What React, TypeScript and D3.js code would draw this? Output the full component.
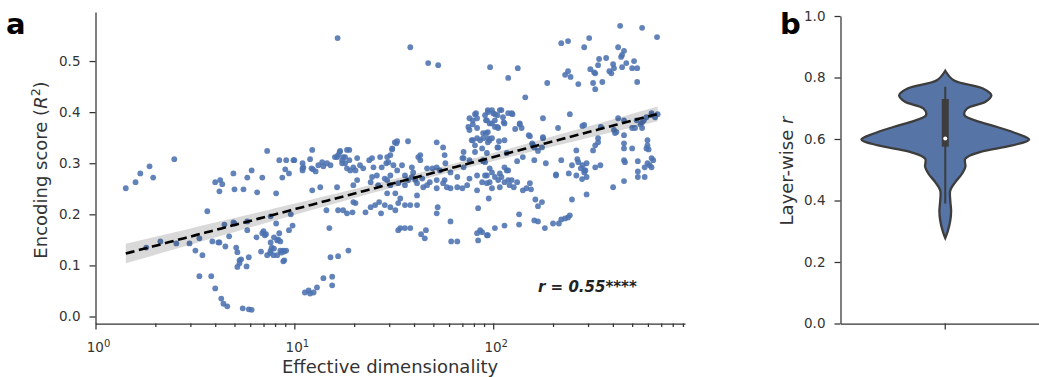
import * as d3 from "d3";
import { useEffect, useRef } from "react";

// Panel a: effective dimensionality (x) vs encoding score R^2 (y), one dot per layer
// split in three blocks by dimensionality so the pairs stay easy to check
const dimsLow = [
  1.42, 1.59, 1.68, 1.87, 1.95, 2.49, 1.8, 2.12, 2.55, 2.97,
  3.18, 3.33, 3.45, 3.33, 3.65, 3.82, 3.87, 4.0, 4.0, 4.2,
  4.24, 4.34, 4.29, 4.4, 4.6, 4.2, 4.5, 4.45, 4.7, 4.94,
  5.0, 4.94, 5.1, 5.17, 5.17, 5.3, 5.4, 5.3, 5.5, 5.75,
  5.9, 5.8, 5.9, 6.1, 5.55, 5.8, 6.1, 6.5, 6.45, 6.8,
  6.9, 7.0, 7.2, 7.3, 7.3, 7.55, 7.6, 7.7, 7.9, 7.85,
  8.1, 8.2, 8.1, 8.4, 8.5, 8.6, 8.7, 8.8, 9.0, 8.9,
  9.1, 9.1, 9.4, 9.4, 9.6, 9.8, 9.9, 8.4, 7.9, 7.6,
  4.15, 5.0, 5.8, 6.9, 7.1, 8.3, 7.6, 8.2, 8.5, 8.9,
  8.8,
];
const scoresLow = [
  0.251, 0.263, 0.28, 0.294, 0.272, 0.308, 0.135, 0.147, 0.143, 0.143,
  0.129, 0.153, 0.12, 0.079, 0.206, 0.079, 0.147, 0.055, 0.263, 0.245,
  0.267, 0.259, 0.035, 0.025, 0.02, 0.145, 0.137, 0.18, 0.157, 0.28,
  0.249, 0.184, 0.135, 0.126, 0.097, 0.11, 0.112, 0.104, 0.016, 0.098,
  0.116, 0.169, 0.014, 0.013, 0.249, 0.272, 0.286, 0.243, 0.155, 0.127,
  0.272, 0.167, 0.161, 0.324, 0.12, 0.124, 0.196, 0.135, 0.133, 0.12,
  0.241, 0.149, 0.182, 0.306, 0.147, 0.125, 0.272, 0.129, 0.288, 0.11,
  0.306, 0.129, 0.28, 0.169, 0.2, 0.178, 0.306, 0.163, 0.155, 0.145,
  0.145, 0.182, 0.186, 0.163, 0.159, 0.151, 0.129, 0.12, 0.129, 0.127,
  0.108,
];

const dimsMid = [
  11.0, 11.0, 12.3, 12.2, 12.3, 13.2, 13.5, 13.8, 14.5, 15.0,
  14.0, 13.0, 12.0, 11.3, 11.8, 12.5, 15.2, 15.5, 15.5, 16.6,
  16.4, 16.4, 16.9, 17.4, 18.0, 18.4, 18.4, 17.6, 18.4, 18.7,
  16.5, 10.0, 11.1, 12.0, 12.4, 14.0, 14.6, 15.2, 16.0, 16.6,
  17.0, 17.4, 17.6, 18.0, 18.9, 18.9, 19.8, 20.7, 21.4, 22.2,
  23.8, 24.6, 25.0, 27.0, 27.5, 29.0, 29.7, 30.4, 31.1, 32.6,
  32.9, 31.5, 34.8, 37.3, 39.0, 39.6, 42, 43, 46.5, 52,
  56, 57, 57.5, 52, 71, 75, 76, 79, 81, 83,
  78, 81, 83, 89, 91, 93, 94, 94, 81, 89,
  38.3, 47.1, 52.9, 96.5, 11, 12.8, 19.1, 20.3, 24.6, 26,
  28.5, 30.4, 32.9, 36, 39, 40.6, 44, 48, 52, 57,
  20.7, 19.8, 24.2, 26.4, 29.3, 30.4, 33.3, 36, 37.3, 41.4,
  44.5, 46.5, 52, 56, 58.5, 61, 66, 70, 74, 83,
  88, 93, 19.8, 20.3, 16.6, 19.6, 22.8, 24.2, 25.5, 26.7,
  27.3, 28.5, 30.4, 32.2, 33.3, 34.1, 36, 38.3, 41.4, 41.4,
  32.2, 29.3, 52, 52.6, 61, 84, 83, 86, 88, 93,
  33.3, 34.1, 36, 38.3, 43.4, 45.3, 45.9, 61.5, 66, 84,
  82, 100, 105, 110, 125, 76, 79, 83, 92, 96,
  102, 106, 113, 92, 79, 86, 89, 96, 107, 70,
  88, 105, 136, 157, 178, 151, 32, 31, 29.3, 43,
  49.5, 54, 61, 66, 71, 76, 83, 91, 96, 108,
  117, 89, 71, 76,
];
const scoresMid = [
  0.3, 0.29, 0.326, 0.29, 0.247, 0.296, 0.253, 0.302, 0.208, 0.173,
  0.075, 0.057, 0.045, 0.047, 0.051, 0.047, 0.116, 0.078, 0.061, 0.118,
  0.253, 0.312, 0.322, 0.3, 0.312, 0.326, 0.29, 0.208, 0.202, 0.129,
  0.545, 0.306, 0.292, 0.308, 0.288, 0.294, 0.3, 0.296, 0.312, 0.316,
  0.324, 0.306, 0.312, 0.3, 0.326, 0.306, 0.292, 0.31, 0.296, 0.29,
  0.306, 0.31, 0.292, 0.312, 0.292, 0.3, 0.302, 0.316, 0.329, 0.339,
  0.343, 0.296, 0.296, 0.343, 0.292, 0.282, 0.312, 0.316, 0.29, 0.341,
  0.331, 0.316, 0.3, 0.292, 0.31, 0.371, 0.365, 0.384, 0.396, 0.388,
  0.345, 0.335, 0.349, 0.359, 0.394, 0.384, 0.404, 0.349, 0.322, 0.304,
  0.527, 0.496, 0.492, 0.488, 0.286, 0.284, 0.286, 0.286, 0.273, 0.276,
  0.27, 0.276, 0.286, 0.276, 0.273, 0.267, 0.27, 0.263, 0.267, 0.267,
  0.267, 0.257, 0.263, 0.257, 0.267, 0.257, 0.261, 0.257, 0.267, 0.261,
  0.253, 0.257, 0.251, 0.261, 0.253, 0.251, 0.253, 0.251, 0.257, 0.247,
  0.263, 0.261, 0.224, 0.222, 0.208, 0.204, 0.204, 0.214, 0.218, 0.224,
  0.202, 0.218, 0.214, 0.208, 0.222, 0.231, 0.218, 0.218, 0.218, 0.237,
  0.241, 0.241, 0.202, 0.214, 0.186, 0.212, 0.163, 0.169, 0.165, 0.159,
  0.169, 0.173, 0.173, 0.173, 0.161, 0.153, 0.169, 0.147, 0.147, 0.149,
  0.398, 0.398, 0.394, 0.404, 0.396, 0.388, 0.376, 0.369, 0.384, 0.378,
  0.371, 0.369, 0.38, 0.359, 0.345, 0.345, 0.349, 0.345, 0.343, 0.31,
  0.329, 0.331, 0.378, 0.339, 0.351, 0.355, 0.341, 0.327, 0.312, 0.306,
  0.29, 0.286, 0.282, 0.273, 0.292, 0.27, 0.276, 0.276, 0.29, 0.28,
  0.286, 0.306, 0.322, 0.306,
];

const dimsHigh = [
  435, 561, 667, 220, 238, 304, 287, 425, 445, 455,
  440, 341, 370, 401, 445, 467, 511, 500, 530, 337,
  308, 326, 322, 384, 393, 405, 230, 238, 245, 268,
  318, 354, 326, 530, 133, 119, 187, 145, 243, 178,
  212, 153, 178, 158, 161, 136, 129, 287, 348, 425,
  410, 405, 455, 455, 500, 517, 551, 561, 573, 626,
  652, 672, 597, 597, 590, 605, 455, 455, 337, 326,
  262, 168, 141, 161, 184, 220, 249, 268, 276, 288,
  346, 455, 534, 613, 638, 626, 94, 98.6, 102, 108,
  112, 119, 124, 102, 114, 98.6, 105, 94, 98.6, 106,
  94, 114, 139, 93, 117, 132, 114, 119, 98.6, 91,
  93, 96, 102, 106, 108, 110, 114, 119, 124, 132,
  121, 127, 98.6, 141, 147, 153, 155, 95, 163, 168,
  176, 135, 135, 114, 102, 94, 161, 168, 182, 200,
  214, 220, 230, 238, 243, 207, 240, 262, 280, 295,
  287, 249, 295, 401, 455, 534, 578, 337, 176, 265,
  282, 326, 534, 578, 597, 626, 500, 460, 318, 417,
  527, 561, 590, 626, 281, 295, 291, 207,
];
const scoresHigh = [
  0.569, 0.565, 0.547, 0.535, 0.539, 0.545, 0.527, 0.527, 0.512, 0.52,
  0.508, 0.504, 0.506, 0.494, 0.488, 0.496, 0.5, 0.486, 0.486, 0.492,
  0.484, 0.476, 0.478, 0.48, 0.476, 0.486, 0.473, 0.48, 0.469, 0.455,
  0.457, 0.459, 0.445, 0.459, 0.486, 0.467, 0.457, 0.429, 0.396, 0.388,
  0.369, 0.353, 0.349, 0.337, 0.331, 0.376, 0.367, 0.375, 0.371, 0.388,
  0.359, 0.365, 0.355, 0.384, 0.369, 0.369, 0.376, 0.369, 0.384, 0.398,
  0.39, 0.396, 0.345, 0.335, 0.329, 0.327, 0.339, 0.329, 0.341, 0.335,
  0.325, 0.324, 0.312, 0.306, 0.3, 0.306, 0.296, 0.302, 0.29, 0.286,
  0.296, 0.306, 0.284, 0.296, 0.306, 0.292, 0.4, 0.404, 0.396, 0.404,
  0.39, 0.398, 0.398, 0.384, 0.378, 0.378, 0.371, 0.361, 0.349, 0.331,
  0.341, 0.345, 0.369, 0.32, 0.32, 0.304, 0.292, 0.286, 0.282, 0.302,
  0.276, 0.263, 0.273, 0.267, 0.253, 0.273, 0.263, 0.267, 0.267, 0.263,
  0.257, 0.253, 0.251, 0.247, 0.251, 0.261, 0.249, 0.231, 0.229, 0.216,
  0.224, 0.2, 0.18, 0.178, 0.173, 0.159, 0.188, 0.186, 0.173, 0.182,
  0.182, 0.19, 0.192, 0.194, 0.198, 0.278, 0.28, 0.276, 0.269, 0.273,
  0.282, 0.229, 0.239, 0.253, 0.265, 0.273, 0.273, 0.349, 0.331, 0.308,
  0.296, 0.292, 0.304, 0.292, 0.3, 0.31, 0.329, 0.302, 0.325, 0.361,
  0.384, 0.38, 0.39, 0.394, 0.373, 0.3, 0.286, 0.276,
];

const yTicksA = [0, 0.1, 0.2, 0.3, 0.4, 0.5];
const xMajorTicks = [1, 10, 100];
const corrLabel = "r = 0.55****";

// Panel b: violin of layer-wise r (density profile, max = 1)
const violinR = [
  0.278, 0.3, 0.335, 0.367, 0.4, 0.433, 0.46, 0.487, 0.509, 0.536, 0.558, 0.579,
  0.598, 0.617, 0.639, 0.655, 0.677, 0.699, 0.721, 0.742, 0.764, 0.791, 0.822,
];
const violinDensity = [
  0, 0.03, 0.06, 0.07, 0.06, 0.06, 0.12, 0.2, 0.24, 0.24, 0.42, 0.8,
  1.0, 0.86, 0.62, 0.42, 0.23, 0.26, 0.48, 0.55, 0.45, 0.1, 0,
];
// whisker low, q1, median, q3, whisker high
const layerBoxStats = [0.39, 0.575, 0.602, 0.73, 0.77];
const yTicksB = [0, 0.2, 0.4, 0.6, 0.8, 1.0];

const FONT = "DejaVu Sans, sans-serif";
const INK = "#333";

export default function App() {
  const ref = useRef<SVGSVGElement>(null);

  useEffect(() => {
    const svg = d3.select(ref.current);
    svg.selectAll("*").remove();

    const effDim = [...dimsLow, ...dimsMid, ...dimsHigh];
    const encScore = [...scoresLow, ...scoresMid, ...scoresHigh];

    // ---------- panel a ----------
    const x = d3.scaleLog().domain([1, 922]).range([95.5, 685]);
    const y = d3.scaleLinear().domain([-0.0137, 0.596]).range([323.5, 12]);

    svg
      .append("g")
      .selectAll("circle")
      .data(effDim)
      .enter()
      .append("circle")
      .attr("cx", (d) => x(d))
      .attr("cy", (d, i) => y(encScore[i]))
      .attr("r", 2.9)
      .attr("fill", "#4c72b0")
      .attr("fill-opacity", 0.88);

    // least-squares fit on log10(dim) with a 95% band
    const lx = effDim.map(Math.log10);
    const n = lx.length;
    const mx = d3.mean(lx)!;
    const my = d3.mean(encScore)!;
    const sxx = d3.sum(lx, (v) => (v - mx) ** 2);
    const sxy = d3.sum(lx, (v, i) => (v - mx) * (encScore[i] - my));
    const slope = sxy / sxx;
    const icpt = my - slope * mx;
    const sse = d3.sum(lx, (v, i) => (encScore[i] - (icpt + slope * v)) ** 2);
    const s = Math.sqrt(sse / (n - 2));
    const [lo, hi] = d3.extent(lx) as [number, number];
    const grid = d3.range(0, 101).map((k) => lo + ((hi - lo) * k) / 100);
    const half = (g: number) => 1.96 * s * Math.sqrt(1 / n + (g - mx) ** 2 / sxx);

    svg
      .append("path")
      .datum(grid)
      .attr("fill", "#000")
      .attr("fill-opacity", 0.15)
      .attr(
        "d",
        d3
          .area<number>()
          .x((g) => x(10 ** g))
          .y0((g) => y(icpt + slope * g - half(g)))
          .y1((g) => y(icpt + slope * g + half(g)))
      );

    svg
      .append("path")
      .datum(grid)
      .attr("fill", "none")
      .attr("stroke", "#000")
      .attr("stroke-width", 2.6)
      .attr("stroke-dasharray", "9,4.5")
      .attr(
        "d",
        d3
          .line<number>()
          .x((g) => x(10 ** g))
          .y((g) => y(icpt + slope * g))
      );

    svg
      .append("text")
      .attr("x", 538)
      .attr("y", 292)
      .attr("font-family", FONT)
      .attr("font-size", 15)
      .attr("font-weight", "bold")
      .attr("font-style", "italic")
      .attr("fill", "#222")
      .text(corrLabel);

    // axes a
    const yAxisA = svg
      .append("g")
      .attr("transform", "translate(95.5,0)")
      .call(
        d3
          .axisLeft(y)
          .tickValues(yTicksA)
          .tickFormat(d3.format(".1f"))
          .tickSize(6)
          .tickPadding(9)
          .tickSizeOuter(0)
      );

    const minorTicks: number[] = [];
    for (const dec of xMajorTicks)
      for (let k = 2; k <= 9; k++) if (k * dec <= 922) minorTicks.push(k * dec);

    const xAxisA = svg
      .append("g")
      .attr("transform", "translate(0,323.5)")
      .call(
        d3
          .axisBottom(x)
          .tickValues(xMajorTicks)
          .tickFormat(() => "")
          .tickSize(6)
          .tickSizeOuter(0)
      );
    const xMinorA = svg
      .append("g")
      .attr("transform", "translate(0,323.5)")
      .call(
        d3
          .axisBottom(x)
          .tickValues(minorTicks)
          .tickFormat(() => "")
          .tickSize(3.5)
          .tickSizeOuter(0)
      );
    xMinorA.select(".domain").remove();

    xMajorTicks.forEach((t) => {
      const lbl = svg
        .append("text")
        .attr("x", x(t) + 3)
        .attr("y", 352)
        .attr("text-anchor", "middle")
        .attr("font-family", FONT)
        .attr("font-size", 13.5)
        .attr("fill", INK);
      lbl.append("tspan").text("10");
      lbl
        .append("tspan")
        .attr("dy", -5.5)
        .attr("font-size", 10)
        .text(String(Math.round(Math.log10(t))));
    });

    svg
      .append("text")
      .attr("x", 390)
      .attr("y", 373)
      .attr("text-anchor", "middle")
      .attr("font-family", FONT)
      .attr("font-size", 18)
      .attr("fill", INK)
      .text("Effective dimensionality");

    const ylab = svg
      .append("text")
      .attr("transform", "translate(47,170) rotate(-90)")
      .attr("text-anchor", "middle")
      .attr("font-family", FONT)
      .attr("font-size", 18)
      .attr("fill", INK);
    ylab.append("tspan").text("Encoding score (");
    ylab.append("tspan").attr("font-style", "italic").text("R");
    ylab.append("tspan").attr("dy", -7).attr("font-size", 12.5).text("2");
    ylab.append("tspan").attr("dy", 7).text(")");

    svg
      .append("text")
      .attr("x", 6)
      .attr("y", 34)
      .attr("font-family", FONT)
      .attr("font-size", 29)
      .attr("font-weight", "bold")
      .attr("fill", "#000")
      .text("a");

    // ---------- panel b ----------
    const yb = d3.scaleLinear().domain([0, 1]).range([323.5, 16]);
    const xb = d3.scaleBand().domain(["layers"]).range([840.5, 1050]);
    const cx = xb("layers")! + xb.bandwidth() / 2;
    const wb = d3.scaleLinear().domain([0, 1]).range([0, xb.bandwidth() * 0.4]);

    svg
      .append("path")
      .datum(violinDensity)
      .attr("fill", "#5674a6")
      .attr("stroke", "#3d3d3d")
      .attr("stroke-width", 2.3)
      .attr(
        "d",
        d3
          .area<number>()
          .y((d, i) => yb(violinR[i]))
          .x0((d) => cx - wb(d))
          .x1((d) => cx + wb(d))
          .curve(d3.curveCatmullRom)
      );

    const [wLo, q1, med, q3, wHi] = layerBoxStats;
    svg
      .append("line")
      .attr("x1", cx)
      .attr("x2", cx)
      .attr("y1", yb(wLo))
      .attr("y2", yb(wHi))
      .attr("stroke", "#3d3d3d")
      .attr("stroke-width", 2);
    svg
      .append("line")
      .attr("x1", cx)
      .attr("x2", cx)
      .attr("y1", yb(q1))
      .attr("y2", yb(q3))
      .attr("stroke", "#3d3d3d")
      .attr("stroke-width", 7);
    svg
      .append("circle")
      .attr("cx", cx)
      .attr("cy", yb(med))
      .attr("r", 2)
      .attr("fill", "#fff");

    const yAxisB = svg
      .append("g")
      .attr("transform", "translate(840.5,0)")
      .call(
        d3
          .axisLeft(yb)
          .tickValues(yTicksB)
          .tickFormat(d3.format(".1f"))
          .tickSize(6)
          .tickPadding(9)
          .tickSizeOuter(0)
      );
    const xAxisB = svg
      .append("g")
      .attr("transform", "translate(0,323.5)")
      .call(d3.axisBottom(xb).tickFormat(() => "").tickSize(6).tickSizeOuter(0));

    [yAxisA, xAxisA, xMinorA, yAxisB, xAxisB].forEach((g) => {
      g.attr("font-family", FONT).attr("font-size", 13.5);
      g.selectAll("path,line").attr("stroke", INK).attr("stroke-width", 1.25);
      g.selectAll("text").attr("fill", INK);
    });

    const blab = svg
      .append("text")
      .attr("transform", "translate(793,171) rotate(-90)")
      .attr("text-anchor", "middle")
      .attr("font-family", FONT)
      .attr("font-size", 18)
      .attr("fill", INK);
    blab.append("tspan").text("Layer-wise ");
    blab.append("tspan").attr("font-style", "italic").text("r");

    svg
      .append("text")
      .attr("x", 780)
      .attr("y", 34)
      .attr("font-family", FONT)
      .attr("font-size", 29)
      .attr("font-weight", "bold")
      .attr("fill", "#000")
      .text("b");
  }, []);

  return (
    <svg
      ref={ref}
      width={1039}
      height={377}
      style={{ position: "absolute", left: 0, top: 0, background: "#fff" }}
    />
  );
}
